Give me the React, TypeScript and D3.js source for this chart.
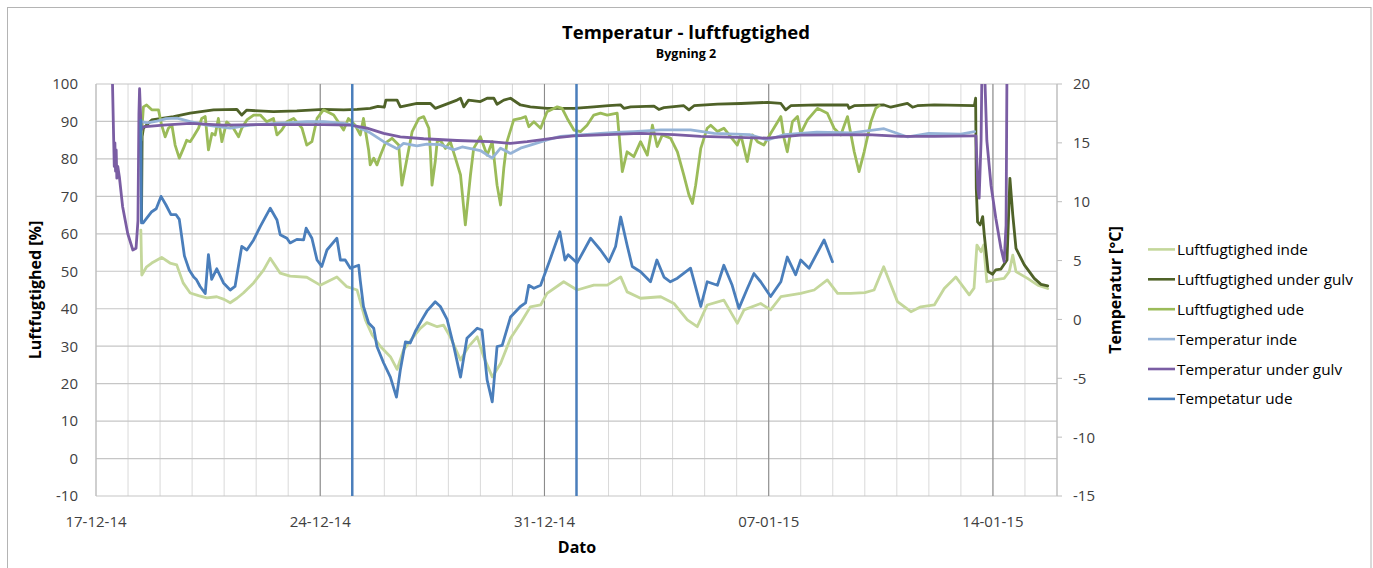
import * as d3 from "d3"

// Date axis and ticks
const startDate = new Date(2014, 11, 17)
const endDate = new Date(2015, 0, 16)
const xTickLabels = ["17-12-14", "24-12-14", "31-12-14", "07-01-15", "14-01-15"]
const markerDates = ["25-12-14", "01-01-15"]
const humTicks = [-10, 0, 10, 20, 30, 40, 50, 60, 70, 80, 90, 100]
const tempTicks = [-15, -10, -5, 0, 5, 10, 15, 20]

// [days since 17-12-14, value]
const fugtInde: [number, number][] = [
  [1.40, 61], [1.43, 49], [1.58, 51.2], [1.74, 52.2], [2.05, 53.7], [2.31, 52.2], [2.52, 51.7], [2.72, 46.9],
  [2.94, 44.2], [3.2, 43.5], [3.46, 42.9], [3.77, 43.2], [4.0, 42.5], [4.19, 41.6], [4.4, 42.8], [4.6, 44.2],
  [4.92, 46.9], [5.23, 50.3], [5.44, 53.5], [5.75, 49.5], [6.06, 48.7], [6.58, 48.4], [7.0, 46.3], [7.52, 48.5],
  [7.83, 45.9], [8.15, 45.0], [8.41, 37.0], [8.62, 33.0], [8.88, 29.9], [9.19, 27.2], [9.4, 23.8], [9.6, 29.0],
  [9.87, 32.1], [10.13, 34.8], [10.33, 36.3], [10.65, 35.2], [10.85, 35.6], [11.06, 32.5], [11.38, 26.3],
  [11.63, 29.9], [11.9, 32.5], [12.1, 27.2], [12.37, 21.8], [12.63, 25.4], [12.94, 32.1], [13.25, 36.1],
  [13.56, 40.5], [13.88, 41.0], [14.08, 44.1], [14.6, 47.2], [15.02, 45.0], [15.54, 46.3], [15.96, 46.3],
  [16.38, 48.5], [16.58, 44.5], [17.0, 42.8], [17.63, 43.2], [18.04, 41.4], [18.46, 37.0], [18.77, 35.2],
  [19.08, 41.0], [19.6, 42.3], [20.02, 36.1], [20.23, 39.7], [20.75, 41.4], [21.06, 39.7], [21.38, 43.2],
  [22.0, 44.1], [22.42, 45.0], [22.83, 47.7], [23.15, 44.1], [23.56, 44.1], [24.0, 44.3], [24.29, 45.0],
  [24.59, 51.2], [25.02, 41.9], [25.44, 39.2], [25.75, 40.5], [26.17, 41.0], [26.48, 45.4], [26.84, 48.5],
  [27.26, 43.7], [27.41, 45.5], [27.5, 57.0], [27.63, 55.2], [27.71, 57.0], [27.81, 47.2], [28.04, 47.7],
  [28.35, 48.1], [28.51, 49.9], [28.62, 54.3], [28.72, 49.9], [29.08, 48.1], [29.4, 46.3], [29.71, 45.4],
]

const fugtGulv: [number, number][] = [
  [1.42, 63.5], [1.44, 86.0], [1.48, 88.2], [1.74, 90.4], [2.42, 91.3], [2.94, 92.2], [3.67, 93.1], [4.4, 93.2],
  [4.55, 91.7], [4.7, 93.0], [5.54, 92.6], [6.27, 92.8], [7.1, 93.2], [7.73, 93.1], [8.15, 93.2], [8.56, 93.5],
  [8.8, 94.0], [9.0, 93.8], [9.05, 95.7], [9.4, 95.7], [9.5, 93.9], [10.02, 94.8], [10.44, 94.8], [10.59, 93.5],
  [10.9, 94.5], [11.27, 95.7], [11.38, 96.2], [11.48, 93.9], [11.63, 95.7], [12.0, 95.3], [12.21, 96.2],
  [12.42, 96.2], [12.52, 94.6], [12.73, 95.7], [12.94, 96.2], [13.25, 94.4], [13.56, 93.9], [14.08, 93.5],
  [14.92, 93.5], [15.54, 93.9], [16.0, 94.2], [16.38, 94.4], [16.48, 93.5], [16.69, 93.9], [17.42, 94.1],
  [17.57, 93.2], [17.73, 93.7], [18.35, 94.2], [18.51, 93.1], [18.67, 94.2], [19.4, 94.6], [20.13, 94.8],
  [20.96, 95.1], [21.38, 94.8], [21.53, 93.1], [21.69, 94.2], [22.52, 94.4], [23.46, 94.4], [23.51, 93.5],
  [23.67, 94.2], [24.6, 94.4], [24.81, 93.8], [25.33, 94.8], [25.49, 93.8], [25.64, 94.2], [26.17, 94.4],
  [27.42, 94.2], [27.46, 96.2], [27.48, 72.2], [27.52, 63.2], [27.6, 62.4], [27.68, 64.6], [27.73, 59.7],
  [27.85, 49.9], [27.99, 49.2], [28.09, 50.4], [28.25, 50.6], [28.44, 53.0], [28.53, 74.8], [28.62, 65.0],
  [28.72, 56.1], [28.98, 51.7], [29.29, 48.1], [29.5, 46.5], [29.71, 46.1],
]

const fugtUde: [number, number][] = [
  [1.41, 85.0], [1.48, 93.9], [1.58, 94.4], [1.74, 93.1], [1.95, 93.1], [2.05, 89.0], [2.16, 85.9], [2.26, 88.2],
  [2.37, 89.0], [2.47, 83.7], [2.6, 80.2], [2.73, 82.8], [2.83, 85.0], [2.94, 84.6], [3.04, 85.9], [3.2, 88.2],
  [3.3, 90.8], [3.41, 91.3], [3.51, 82.4], [3.62, 86.8], [3.72, 86.4], [3.82, 90.8], [3.93, 84.6], [4.08, 89.9],
  [4.29, 88.2], [4.45, 85.9], [4.55, 88.2], [4.71, 90.4], [4.92, 91.7], [5.13, 91.7], [5.33, 89.9], [5.54, 90.8],
  [5.65, 86.4], [5.8, 87.7], [5.96, 89.9], [6.17, 90.8], [6.43, 88.2], [6.58, 83.7], [6.74, 84.6], [6.9, 90.8],
  [7.1, 93.1], [7.42, 91.7], [7.73, 87.7], [7.88, 90.8], [8.09, 89.0], [8.25, 86.4], [8.35, 90.8], [8.51, 82.4],
  [8.56, 78.4], [8.67, 80.2], [8.77, 78.4], [8.88, 81.0], [9.03, 84.2], [9.24, 85.5], [9.45, 83.7], [9.55, 73.0],
  [9.71, 80.2], [9.87, 87.3], [10.08, 90.8], [10.23, 91.3], [10.39, 88.2], [10.44, 81.9], [10.49, 73.0],
  [10.59, 79.3], [10.65, 84.6], [10.75, 85.0], [10.91, 82.8], [11.06, 84.6], [11.22, 80.2], [11.38, 75.7],
  [11.53, 62.4], [11.69, 75.7], [11.79, 82.8], [12.0, 85.9], [12.21, 81.0], [12.37, 84.6], [12.52, 73.0],
  [12.63, 67.7], [12.73, 77.5], [12.83, 84.6], [13.04, 90.4], [13.25, 90.8], [13.41, 91.3], [13.51, 88.6],
  [13.67, 89.9], [13.88, 88.2], [14.08, 92.6], [14.4, 93.9], [14.55, 93.5], [14.71, 90.8], [14.92, 87.7],
  [15.13, 87.3], [15.33, 89.0], [15.54, 91.7], [15.75, 92.2], [15.96, 91.7], [16.27, 92.2], [16.43, 76.6],
  [16.58, 81.9], [16.79, 80.6], [17.0, 84.6], [17.21, 81.0], [17.37, 89.0], [17.52, 83.3], [17.68, 86.4],
  [17.94, 85.5], [18.15, 81.9], [18.35, 75.7], [18.51, 70.4], [18.62, 68.1], [18.72, 73.0], [18.88, 82.8],
  [19.08, 88.2], [19.19, 89.0], [19.4, 87.3], [19.6, 88.2], [20.02, 83.7], [20.13, 86.4], [20.33, 79.3],
  [20.49, 86.4], [20.65, 84.6], [20.85, 83.7], [21.06, 86.8], [21.38, 91.3], [21.48, 85.5], [21.58, 81.9],
  [21.74, 89.9], [21.9, 91.3], [22.0, 86.8], [22.21, 90.4], [22.52, 93.5], [22.83, 92.2], [23.04, 88.2],
  [23.25, 86.4], [23.46, 91.3], [23.67, 81.9], [23.82, 76.6], [23.98, 81.9], [24.19, 89.9], [24.34, 93.5],
  [24.45, 94.2],
]

const tempInde: [number, number][] = [
  [1.42, 16.8], [1.6, 16.7], [1.9, 16.85], [2.19, 17.05], [2.53, 17.1], [2.94, 16.8], [3.46, 16.5], [4.19, 16.25],
  [4.81, 16.5], [5.65, 16.65], [6.58, 16.8], [7.1, 16.8], [7.73, 16.65], [8.04, 16.5], [8.56, 15.85], [8.98, 15.1],
  [9.4, 14.5], [9.6, 14.95], [10.02, 14.75], [10.33, 14.9], [10.75, 14.85], [11.17, 14.4], [11.43, 14.65],
  [12.0, 14.35], [12.37, 13.7], [12.63, 14.55], [12.94, 14.1], [13.25, 14.55], [13.56, 14.8], [14.08, 15.25],
  [14.5, 15.55], [15.02, 15.65], [15.75, 15.8], [16.38, 15.9], [16.79, 15.95], [17.63, 16.1], [18.56, 16.1],
  [19.3, 15.8], [20.4, 15.7], [20.96, 15.25], [21.5, 15.7], [22.5, 15.9], [23.6, 15.85], [24.6, 16.2],
  [25.34, 15.5], [26.0, 15.8], [27.0, 15.75], [27.43, 15.95],
]

const tempGulv: [number, number][] = [
  [0.5, 22.0], [0.55, 15.5], [0.57, 13.0], [0.59, 15.0], [0.61, 12.6], [0.63, 14.4], [0.65, 12.0], [0.68, 13.0],
  [0.73, 12.1], [0.83, 9.6], [0.99, 7.3], [1.15, 5.9], [1.25, 6.05], [1.31, 8.4], [1.34, 17.5], [1.36, 19.6],
  [1.41, 16.1], [1.47, 16.35], [2.09, 16.5], [2.94, 16.65], [3.98, 16.5], [5.02, 16.55], [6.06, 16.55],
  [7.1, 16.55], [7.94, 16.5], [8.46, 16.25], [8.98, 15.8], [9.5, 15.5], [10.23, 15.35], [11.27, 15.2],
  [12.31, 15.1], [12.94, 14.95], [13.46, 15.1], [13.88, 15.25], [14.4, 15.45], [14.92, 15.6], [15.96, 15.7],
  [17.0, 15.8], [18.04, 15.7], [18.88, 15.55], [20.96, 15.4], [22.0, 15.65], [24.08, 15.7], [25.13, 15.55],
  [26.17, 15.55], [27.42, 15.6], [27.47, 15.6], [27.53, 11.1], [27.57, 10.3], [27.63, 15.2], [27.66, 22.0],
  [27.73, 22.0], [27.81, 15.2], [27.94, 11.4], [28.09, 8.6], [28.25, 6.05], [28.35, 4.9], [28.41, 8.0],
  [28.44, 22.0],
]

const tempUde: [number, number][] = [
  [1.4, 16.9], [1.42, 8.2], [1.47, 8.2], [1.74, 9.15], [1.88, 9.4], [2.03, 10.45], [2.19, 9.7], [2.34, 8.9],
  [2.5, 8.9], [2.6, 8.5], [2.76, 5.4], [2.91, 4.2], [3.05, 3.6], [3.13, 3.4], [3.25, 2.8], [3.41, 2.2],
  [3.51, 5.5], [3.61, 3.4], [3.77, 4.3], [3.98, 3.1], [4.19, 2.5], [4.34, 2.8], [4.55, 6.2], [4.71, 5.9],
  [4.92, 6.75], [5.13, 7.9], [5.44, 9.45], [5.65, 8.45], [5.75, 7.2], [5.96, 6.9], [6.06, 6.5], [6.27, 6.8],
  [6.48, 6.75], [6.56, 7.75], [6.74, 6.9], [6.9, 5.05], [7.05, 4.5], [7.21, 5.9], [7.52, 6.9], [7.63, 5.05],
  [7.78, 5.05], [7.94, 4.35], [8.2, 4.6], [8.25, 3.3], [8.35, 1.1], [8.51, -0.3], [8.67, -0.75], [8.77, -2.3],
  [8.98, -3.7], [9.19, -4.9], [9.38, -6.6], [9.5, -4.3], [9.66, -1.9], [9.81, -2.0], [9.97, -1.0], [10.18, 0.0],
  [10.33, 0.7], [10.59, 1.5], [10.75, 1.1], [10.96, 0.0], [11.17, -2.3], [11.38, -4.9], [11.58, -1.6],
  [11.9, -0.75], [12.05, -0.9], [12.21, -5.15], [12.37, -7.0], [12.52, -2.3], [12.68, -2.2], [12.94, 0.2],
  [13.25, 1.1], [13.41, 1.4], [13.51, 2.9], [13.67, 2.65], [13.88, 2.9], [14.17, 5.05], [14.48, 7.45],
  [14.64, 5.05], [14.74, 5.5], [15.02, 4.8], [15.44, 6.9], [15.75, 5.9], [16.01, 4.9], [16.22, 6.2],
  [16.38, 8.7], [16.58, 6.3], [16.74, 4.5], [17.0, 4.05], [17.31, 3.2], [17.51, 5.05], [17.73, 3.6],
  [17.93, 3.2], [18.15, 3.5], [18.56, 4.35], [18.88, 1.1], [19.08, 3.2], [19.4, 2.9], [19.6, 4.6], [19.86, 2.9],
  [20.07, 0.94], [20.33, 2.6], [20.54, 3.9], [20.75, 3.2], [21.06, 1.95], [21.38, 3.2], [21.58, 5.3],
  [21.84, 3.8], [22.0, 5.05], [22.26, 4.35], [22.73, 6.75], [22.99, 4.9],
]

const series = [
  { name: "Luftfugtighed inde", data: fugtInde, axis: "hum", color: "#c4d79b" },
  { name: "Luftfugtighed under gulv", data: fugtGulv, axis: "hum", color: "#4f6228" },
  { name: "Luftfugtighed ude", data: fugtUde, axis: "hum", color: "#9bbb59" },
  { name: "Temperatur inde", data: tempInde, axis: "temp", color: "#95b3d7" },
  { name: "Temperatur under gulv", data: tempGulv, axis: "temp", color: "#7a5da3" },
  { name: "Tempetatur ude", data: tempUde, axis: "temp", color: "#4a7ebb" },
]

const font = "'Open Sans', sans-serif"
const parse = d3.timeParse("%d-%m-%y")

export default function App() {
  const width = 1373
  const height = 568
  const plot = { left: 96, right: 1057, top: 84, bottom: 496 }

  const x = d3.scaleTime().domain([startDate, endDate]).range([plot.left, plot.right])
  const yHum = d3.scaleLinear().domain([-10, 100]).range([plot.bottom, plot.top])
  const yTemp = d3.scaleLinear().domain([-15, 20]).range([plot.bottom, plot.top])
  const toDate = (d: number) => new Date(startDate.getTime() + d * 864e5)

  const days = d3.timeDay.range(startDate, d3.timeDay.offset(endDate, 1))
  const majorDays = xTickLabels.map((s) => parse(s) as Date)

  const makeLine = (axis: string) =>
    d3
      .line<[number, number]>()
      .x((p) => x(toDate(p[0])))
      .y((p) => (axis === "hum" ? yHum(p[1]) : yTemp(p[1])))

  return (
    <svg width={width} height={height} style={{ position: "absolute", left: 0, top: 0, background: "#fff" }} fontFamily={font}>
      <rect x={7.5} y={7.5} width={1363.5} height={600} fill="#fff" stroke="#b4b4b4" />
      <defs>
        <clipPath id="plotClip">
          <rect x={plot.left} y={plot.top} width={plot.right - plot.left} height={plot.bottom - plot.top} />
        </clipPath>
      </defs>

      {/* minor day gridlines */}
      {days.map((d, i) => (
        <line key={"v" + i} x1={x(d)} x2={x(d)} y1={plot.top} y2={plot.bottom} stroke="#d9d9d9" strokeWidth={1} />
      ))}
      {/* horizontal gridlines */}
      {humTicks.map((t) => (
        <line key={"h" + t} x1={plot.left} x2={plot.right} y1={yHum(t)} y2={yHum(t)} stroke="#c6c6c6" strokeWidth={1.2} />
      ))}
      {/* weekly gridlines */}
      {majorDays.slice(1).map((d, i) => (
        <line key={"m" + i} x1={x(d)} x2={x(d)} y1={plot.top} y2={plot.bottom} stroke="#8c8c8c" strokeWidth={1.1} />
      ))}
      <line x1={plot.left} x2={plot.left} y1={plot.top} y2={plot.bottom} stroke="#bdbdbd" strokeWidth={1.2} />
      <line x1={plot.right} x2={plot.right} y1={plot.top} y2={plot.bottom} stroke="#bdbdbd" strokeWidth={1.2} />
      {tempTicks.map((t) => (
        <line key={"rt" + t} x1={plot.right} x2={plot.right + 5} y1={yTemp(t)} y2={yTemp(t)} stroke="#bdbdbd" />
      ))}

      {/* series */}
      <g clipPath="url(#plotClip)">
        {series.map((s) => (
          <path
            key={s.name}
            d={makeLine(s.axis)(s.data) || ""}
            fill="none"
            stroke={s.color}
            strokeWidth={2.8}
            strokeLinejoin="round"
            strokeLinecap="round"
          />
        ))}
      </g>

      {/* marker lines */}
      {markerDates.map((s) => {
        const d = parse(s) as Date
        return <line key={s} x1={x(d)} x2={x(d)} y1={plot.top} y2={plot.bottom} stroke="#4a7ebb" strokeWidth={2.5} />
      })}

      {/* left axis labels */}
      {humTicks.map((t) => (
        <text key={"hl" + t} x={78} y={yHum(t)} dy="0.36em" textAnchor="end" fontSize={15} fill="#404040">
          {t}
        </text>
      ))}
      {/* right axis labels */}
      {tempTicks.map((t) => (
        <text key={"tl" + t} x={1073} y={yTemp(t)} dy="0.36em" textAnchor="start" fontSize={15} fill="#404040">
          {t}
        </text>
      ))}
      {/* x labels */}
      {xTickLabels.map((s) => (
        <text key={s} x={x(parse(s) as Date)} y={527} textAnchor="middle" fontSize={15} fill="#404040">
          {s}
        </text>
      ))}

      <text x={686} y={38.5} textAnchor="middle" fontSize={18.5} fontWeight="bold" fill="#000">
        Temperatur - luftfugtighed
      </text>
      <text x={686} y={58} textAnchor="middle" fontSize={12.5} fontWeight="bold" fill="#000">
        Bygning 2
      </text>
      <text x={577} y={553} textAnchor="middle" fontSize={16} fontWeight="bold" fill="#000">
        Dato
      </text>
      <text transform="translate(41,290) rotate(-90)" textAnchor="middle" fontSize={16} fontWeight="bold" fill="#000">
        Luftfugtighed [%]
      </text>
      <text transform="translate(1121,290) rotate(-90)" textAnchor="middle" fontSize={16} fontWeight="bold" fill="#000">
        Temperatur [°C]
      </text>

      {/* legend */}
      {series.map((s, i) => {
        const ly = 249.4 + i * 29.9
        return (
          <g key={"lg" + s.name}>
            <line x1={1148} x2={1175} y1={ly} y2={ly} stroke={s.color} strokeWidth={2.6} />
            <text x={1177} y={ly + 5.5} fontSize={15.3} fill="#000">
              {s.name}
            </text>
          </g>
        )
      })}
    </svg>
  )
}
